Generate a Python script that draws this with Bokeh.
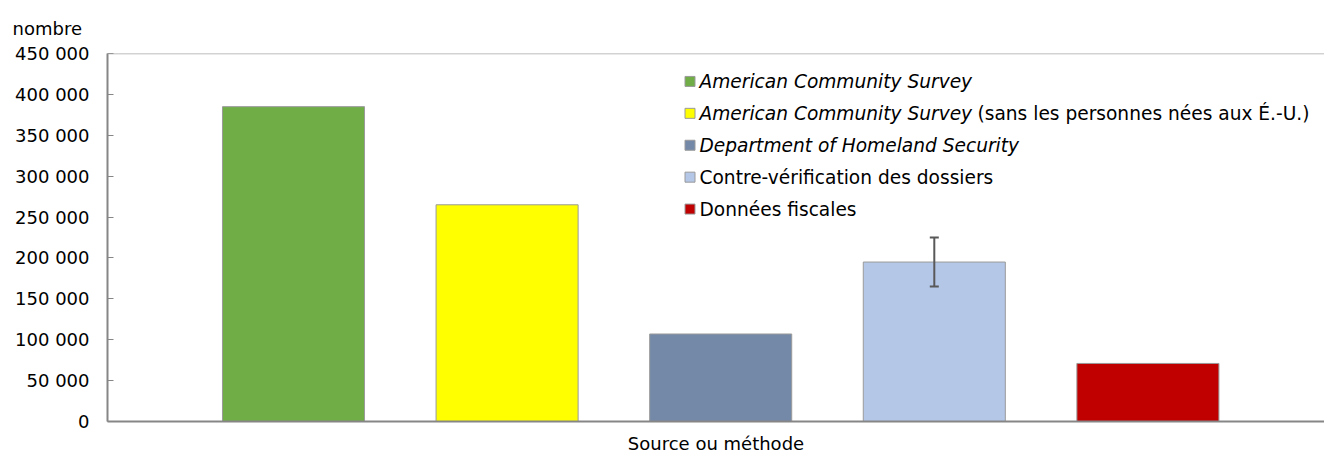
from bokeh.plotting import figure
from bokeh.models import Range1d, FixedTicker, Span, Whisker, TeeHead, ColumnDataSource, Title
from bokeh.core.properties import value
from bokeh.embed import file_html
from bokeh.resources import INLINE

# ---------------- data ----------------
categories = [
    "American Community Survey",
    "American Community Survey (sans les personnes nées aux É.-U.)",
    "Department of Homeland Security",
    "Contre-vérification des dossiers",
    "Données fiscales",
]
values = [385000, 265000, 107000, 195000, 71000]
err_low = [None, None, None, 165000, None]
err_high = [None, None, None, 225000, None]
colors = ["#70AD47", "#FFFF00", "#7489A8", "#B4C7E7", "#C00000"]
y_ticks = [0, 50000, 100000, 150000, 200000, 250000, 300000, 350000, 400000, 450000]
y_tick_labels = ["0", "50 000", "100 000", "150 000", "200 000", "250 000",
                 "300 000", "350 000", "400 000", "450 000"]
legend_italic = ["American Community Survey", "American Community Survey",
                 "Department of Homeland Security", "", ""]
legend_plain = ["", "(sans les personnes nées aux É.-U.)", "",
                "Contre-vérification des dossiers", "Données fiscales"]
y_title = "nombre"
x_title = "Source ou méthode"

# ---------------- layout ----------------
FONT = "DejaVu Sans"
FS = "18px"
LFS = "18.6px"
GRAY = "#868686"

W, H = 1324, 456
BL, BT, BB = 107, 53, 34
frame_w = W - BL
frame_h = H - BT - BB
PXU = 213.6                     # pixels per category slot
xs = 1 - 186 / PXU
xe = xs + frame_w / PXU
ymax = y_ticks[-1]


def px_x(px):                   # page pixel -> data x
    return xs + (px - BL) / PXU


def px_y(py):                   # page pixel -> data y
    return (BT + frame_h - py) / frame_h * ymax


p = figure(width=W, height=H, output_backend="svg", toolbar_location=None,
           x_range=Range1d(xs, xe), y_range=Range1d(0, ymax),
           min_border_left=BL, min_border_right=0, min_border_top=BT,
           min_border_bottom=BB, background_fill_color="white",
           border_fill_color="white", outline_line_color=None)
p.grid.visible = False

xidx = list(range(1, len(categories) + 1))
src = ColumnDataSource(dict(x=xidx, top=values, color=colors, cat=categories))
p.vbar(x="x", top="top", width=0.665, source=src, fill_color="color",
       line_color="#9a9a9a", line_width=1)

# error bars
ex = [xi for xi, lo in zip(xidx, err_low) if lo is not None]
elo = [lo for lo in err_low if lo is not None]
ehi = [hi for hi in err_high if hi is not None]
esrc = ColumnDataSource(dict(base=ex, lower=elo, upper=ehi))
wcol = "#595959"
p.add_layout(Whisker(source=esrc, base="base", lower="lower", upper="upper",
                     line_color=wcol, line_width=2, level="overlay",
                     upper_head=TeeHead(size=9, line_color=wcol, line_width=2),
                     lower_head=TeeHead(size=9, line_color=wcol, line_width=2)))

# top line
p.add_layout(Span(location=ymax, dimension="width", line_color="#a6a6a6", line_width=1.5))

# axes
ya = p.yaxis[0]
ya.ticker = FixedTicker(ticks=y_ticks)
ya.major_label_overrides = {t: l for t, l in zip(y_ticks, y_tick_labels)}
ya.major_label_text_font = FONT
ya.major_label_text_font_size = FS
ya.major_label_text_color = "black"
ya.major_tick_in = 6
ya.major_tick_out = 0
ya.minor_tick_line_color = None
ya.major_tick_line_color = GRAY
ya.axis_line_color = GRAY
ya.axis_line_width = 2
ya.major_label_standoff = 18

xa = p.xaxis[0]
xa.ticker = FixedTicker(ticks=[])
xa.axis_line_color = GRAY
xa.axis_line_width = 2
xa.major_tick_out = 0
xa.major_tick_in = 0
xa.minor_tick_line_color = None
xa.major_label_standoff = 0
xa.axis_label = x_title
xa.axis_label_text_font = FONT
xa.axis_label_text_font_size = FS
xa.axis_label_text_font_style = "normal"
xa.axis_label_text_color = "black"
xa.axis_label_standoff = 11

p.add_layout(Title(text=y_title, align="left", offset=-95, standoff=30,
                   text_font=FONT, text_font_size=FS, text_font_style="normal",
                   text_color="black"), "above")

# legend (manual, mixed italic/plain)
row_py = [81, 113, 145, 177, 209]
ly = [px_y(py) for py in row_py]
p.scatter(x=[px_x(689.5)] * len(ly), y=ly, marker="square", size=10,
          fill_color=colors, line_color="#9a9a9a", line_width=1)
tx = px_x(699)
tx2 = px_x(977)
it_x, it_y, it_t = [], [], []
pl_x, pl_y, pl_t = [], [], []
for yy, a, b in zip(ly, legend_italic, legend_plain):
    if a:
        it_x.append(tx); it_y.append(yy); it_t.append(a)
    if b:
        pl_x.append(tx2 if a else tx); pl_y.append(yy); pl_t.append(b)
p.text(x=it_x, y=it_y, text=it_t, text_font=value(FONT), text_font_size=LFS,
       text_font_style="italic", text_baseline="middle", text_align="left",
       text_color="black")
p.text(x=pl_x, y=pl_y, text=pl_t, text_font=value(FONT), text_font_size=LFS,
       text_font_style="normal", text_baseline="middle", text_align="left",
       text_color="black")

open("out.html", "w").write(file_html(p, INLINE))
